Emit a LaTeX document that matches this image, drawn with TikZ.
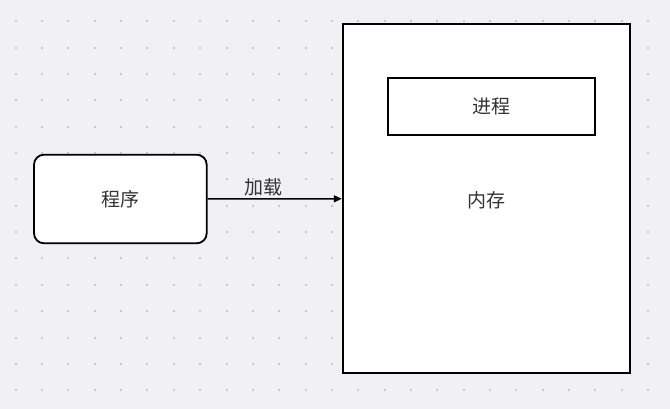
\documentclass[tikz,border=0pt]{standalone}
\usepackage{fontspec}
\newfontfamily\cjk{Noto Sans CJK SC}
\usetikzlibrary{arrows.meta}
\definecolor{bgc}{HTML}{F1F1F3}
\definecolor{dotc}{HTML}{C8C8CA}
\definecolor{txt}{HTML}{333333}
\tikzset{
  box/.style={draw=black, line width=1.8pt, fill=white, inner sep=0pt},
  lbl/.style={font=\cjk\fontsize{19}{22}\selectfont, text=txt},
  conn/.style={draw=black, line width=1.5pt, -{Triangle[length=8pt,width=7pt]}}
}
\begin{document}
\begin{tikzpicture}[x=1pt,y=-1pt]
\path[fill=bgc] (0,0) rectangle (670,409);
\useasboundingbox (0,0) rectangle (670,409);
\foreach \i in {0,...,24}{
  \foreach \j in {0,...,14}{
    \fill[dotc] ({15.7+26.35*\i-1},{21.3+26.35*\j-1}) rectangle ++(2,2);
  }
}
\node[box, rounded corners=10pt, minimum width=172.7pt, minimum height=88.6pt] (prog) at (120.35,199) {};
\node[lbl] (progt) at (prog.center) {程序};
\node[box, minimum width=287.3pt, minimum height=349pt] (mem) at (486.35,198.8) {};
\node[lbl] (memt) at (486,200) {内存};
\node[box, minimum width=207.3pt, minimum height=56.7pt] (proc) at (491.35,106.65) {};
\node[lbl] (proct) at (proc.center) {进程};
\draw[conn] (prog.east) -- (mem.west);
\node[lbl] (load) at (263,187) {加载};
\end{tikzpicture}
\end{document}
